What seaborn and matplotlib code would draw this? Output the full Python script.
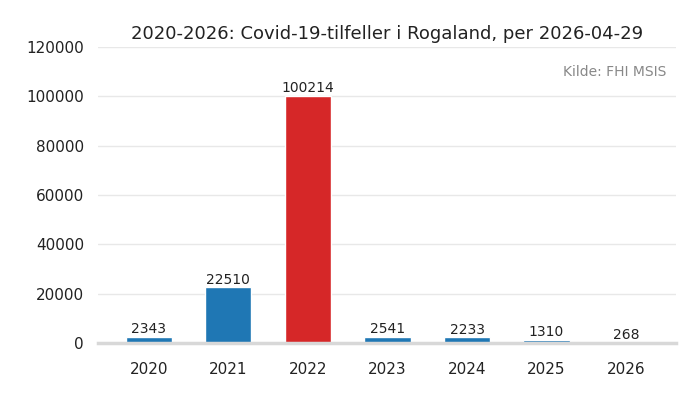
import matplotlib
matplotlib.use("Agg")
import matplotlib.pyplot as plt
import seaborn as sns
import pandas as pd

years = ["2020", "2021", "2022", "2023", "2024", "2025", "2026"]
cases = [2343, 22510, 100214, 2541, 2233, 1310, 268]
highlight = "2022"

sns.set_style("whitegrid")
plt.rcParams["font.family"] = ["DejaVu Sans"]

df = pd.DataFrame({"year": years, "cases": cases})
palette = {y: ("#d62728" if y == highlight else "#1f77b4") for y in years}

fig = plt.figure(figsize=(7, 4), dpi=100)
ax = fig.add_axes([0.14, 0.1425, 0.826, 0.74])
sns.barplot(data=df, x="year", y="cases", hue="year", palette=palette,
            width=0.58, legend=False, ax=ax, saturation=1)

for i, v in enumerate(cases):
    ax.text(i, v + 300, str(v), ha="center", va="bottom", fontsize=10, color="#222222")

ax.set_ylim(0, 120000)
ax.set_xlim(-0.64, 6.63)
ax.set_yticks(range(0, 120001, 20000))
ax.grid(axis="y", color="#e8e8e8", linewidth=1)
ax.grid(axis="x", visible=False)
for s in ["top", "right", "left"]:
    ax.spines[s].set_visible(False)
ax.spines["bottom"].set_color("#d8d8d8")
ax.spines["bottom"].set_linewidth(2.5)
ax.tick_params(axis="both", length=0, labelsize=11, colors="#222222")
ax.tick_params(axis="x", pad=14)
ax.tick_params(axis="y", pad=10)
ax.set_xlabel("")
ax.set_ylabel("")
ax.set_title("2020-2026: Covid-19-tilfeller i Rogaland, per 2026-04-29",
             fontsize=13, color="#222222", pad=6)
ax.text(0.983, 0.915, "Kilde: FHI MSIS", transform=ax.transAxes, ha="right",
        va="center", fontsize=10, color="#888888")

fig.savefig("out.png", dpi=100)
